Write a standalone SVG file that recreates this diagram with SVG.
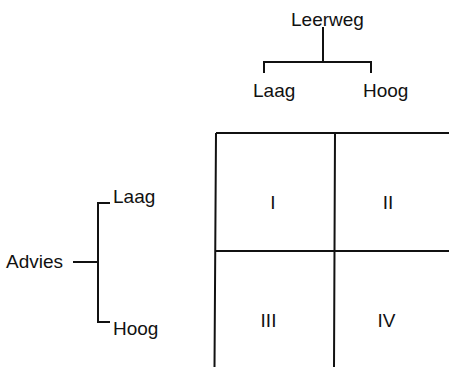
<svg xmlns="http://www.w3.org/2000/svg" width="449" height="367" viewBox="0 0 449 367">
  <style>
    .t { font-family: "Liberation Sans", Arial, sans-serif; font-size: 19px; fill: #111; }
    .n { font-family: "Liberation Sans", Arial, sans-serif; font-size: 19px; fill: #111; text-anchor: middle; }
    .ln { stroke: #111; stroke-width: 2; fill: none; }
  </style>
  <rect width="449" height="367" fill="#fff"/>

  <!-- column factor -->
  <g id="leerweg">
    <text class="t" x="291" y="26">Leerweg</text>
  </g>
  <g id="leerweg-laag">
    <text class="t" x="253" y="97">Laag</text>
  </g>
  <g id="leerweg-hoog">
    <text class="t" x="363" y="97">Hoog</text>
  </g>

  <!-- row factor -->
  <g id="advies">
    <text class="t" x="6" y="268">Advies</text>
  </g>
  <g id="advies-laag">
    <text class="t" x="113" y="203">Laag</text>
  </g>
  <g id="advies-hoog">
    <text class="t" x="113" y="335">Hoog</text>
  </g>

  <!-- bracket connectors -->
  <g id="connectors" class="ln">
    <path d="M323 27 V62 M264 73 V62 H371 V73"/>
    <path d="M73 262 H98 M110 203 H98 V322 H110"/>
  </g>

  <!-- 2x2 grid -->
  <g id="grid" class="ln">
    <path d="M216 133 H449 M215 251 H449 M216 133 L214.5 367 M335 133 L334 367"/>
  </g>
  <g id="cell-1"><text class="n" x="273" y="209">I</text></g>
  <g id="cell-2"><text class="n" x="388" y="209">II</text></g>
  <g id="cell-3"><text class="n" x="268.5" y="327">III</text></g>
  <g id="cell-4"><text class="n" x="386.5" y="327">IV</text></g>
</svg>
